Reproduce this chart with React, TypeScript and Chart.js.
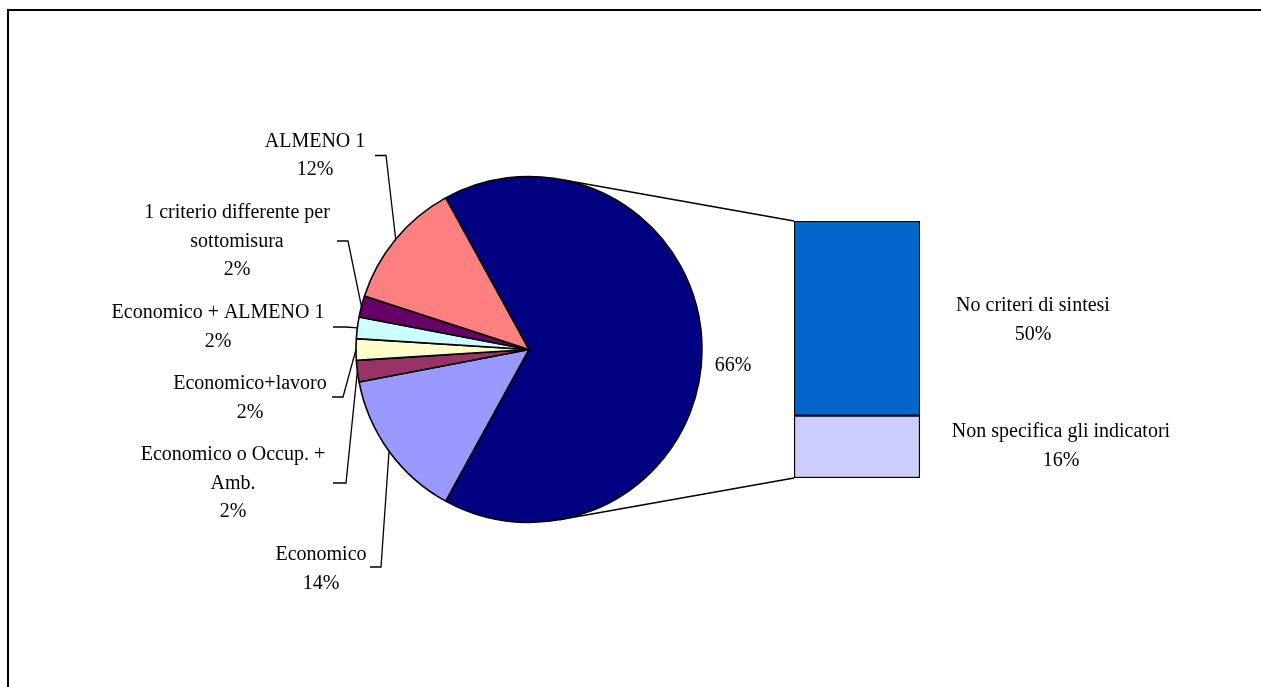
import React, { useEffect, useRef } from 'react';
import { Chart, registerables } from 'chart.js';

Chart.register(...registerables);

// Pie slices, clockwise starting with the aggregated slice that is broken out into the bar
const pieCategories: string[][] = [
  ['Altro'],
  ['Economico'],
  ['Economico o Occup. +', 'Amb.'],
  ['Economico+lavoro'],
  ['Economico + ALMENO 1'],
  ['1 criterio differente per', 'sottomisura'],
  ['ALMENO 1'],
];
const pieValues = [66, 14, 2, 2, 2, 2, 12];
const pieColors = ['#000080', '#9999FF', '#993366', '#FFFFCC', '#CCFFFF', '#660066', '#FF8080'];

// Breakdown of the aggregated slice (stacked bottom to top)
const barCategories = ['Non specifica gli indicatori', 'No criteri di sintesi'];
const barValues = [16, 50];
const barColors = ['#CCCCFF', '#0066CC'];

const W = 1261;
const H = 687;
const FONT = '20px "Liberation Serif", "Times New Roman", serif';
const LINE = 28.5;

// Label placement: centre x, first line y, optional leader [x0, x1, y]
type LabelPos = { cx: number; y: number; leader?: [number, number, number] };
const pieLabelPos: LabelPos[] = [
  { cx: 733, y: 366 },
  { cx: 321, y: 555, leader: [370, 381, 567] },
  { cx: 233, y: 455, leader: [333, 346, 483] },
  { cx: 250, y: 384, leader: [332, 343, 397] },
  { cx: 218, y: 313, leader: [333, 346, 327] },
  { cx: 237, y: 213, leader: [337, 348, 241] },
  { cx: 315, y: 141.5, leader: [375, 386, 155.5] },
];
const barLabelPos: LabelPos[] = [
  { cx: 1061, y: 432 },
  { cx: 1033, y: 306 },
];

const PIE_RADIUS = 173;
const BAR_BOX = { left: 794, right: 920, top: 221, bottom: 478 };

export default function App() {
  const pieRef = useRef<HTMLCanvasElement>(null);
  const barRef = useRef<HTMLCanvasElement>(null);

  useEffect(() => {
    const barTotal = barValues.reduce((a, b) => a + b, 0);
    const pieTotal = pieValues.reduce((a, b) => a + b, 0);

    const barChart = new Chart(barRef.current!, {
      type: 'bar',
      data: {
        labels: [''],
        datasets: barValues.map((v, i) => ({
          label: barCategories[i],
          data: [v],
          backgroundColor: barColors[i],
          borderColor: '#000',
          borderWidth: 1.5,
          borderSkipped: false,
          categoryPercentage: 1,
          barPercentage: 1,
        })),
      },
      options: {
        responsive: false,
        animation: false,
        events: [],
        layout: {
          padding: {
            left: BAR_BOX.left,
            right: W - BAR_BOX.right,
            top: BAR_BOX.top,
            bottom: H - BAR_BOX.bottom,
          },
        },
        scales: {
          x: { display: false, stacked: true },
          y: { display: false, stacked: true, min: 0, max: barTotal },
        },
        plugins: { legend: { display: false }, tooltip: { enabled: false } },
      },
      plugins: [
        {
          id: 'barLabels',
          afterDraw(chart: any) {
            const ctx = chart.ctx;
            ctx.save();
            ctx.font = FONT;
            ctx.fillStyle = '#000';
            ctx.textAlign = 'center';
            ctx.textBaseline = 'middle';
            barCategories.forEach((name, i) => {
              const p = barLabelPos[i];
              ctx.fillText(name, p.cx, p.y);
              ctx.fillText(`${barValues[i]}%`, p.cx, p.y + LINE);
            });
            ctx.restore();
          },
        },
      ],
    });

    const pieChart = new Chart(pieRef.current!, {
      type: 'pie',
      data: {
        labels: pieCategories,
        datasets: [
          {
            data: pieValues,
            backgroundColor: pieColors,
            borderColor: '#000',
            borderWidth: 1.6,
          },
        ],
      },
      options: {
        responsive: false,
        animation: false,
        events: [],
        radius: PIE_RADIUS,
        rotation: 90 - (pieValues[0] / pieTotal) * 180,
        layout: { padding: { left: 0, right: 203, top: 12, bottom: 0 } },
        plugins: { legend: { display: false }, tooltip: { enabled: false } },
      } as any,
      plugins: [
        {
          id: 'pieLabels',
          afterDraw(chart: any) {
            const ctx = chart.ctx;
            const arcs = chart.getDatasetMeta(0).data;
            ctx.save();
            ctx.font = FONT;
            ctx.fillStyle = '#000';
            ctx.strokeStyle = '#000';
            ctx.textAlign = 'center';
            ctx.textBaseline = 'middle';

            pieCategories.forEach((lines, i) => {
              const p = pieLabelPos[i];
              const pct = `${Math.round((pieValues[i] / pieTotal) * 100)}%`;
              const rows = i === 0 ? [pct] : [...lines, pct];
              rows.forEach((t, k) => ctx.fillText(t, p.cx, p.y + k * LINE));
              if (p.leader) {
                const a = arcs[i];
                const mid = (a.startAngle + a.endAngle) / 2;
                const px = a.x + Math.cos(mid) * a.outerRadius;
                const py = a.y + Math.sin(mid) * a.outerRadius;
                ctx.lineWidth = 1.3;
                ctx.beginPath();
                ctx.moveTo(p.leader[0], p.leader[2]);
                ctx.lineTo(p.leader[1], p.leader[2]);
                ctx.lineTo(px, py);
                ctx.stroke();
              }
            });

            // connector lines from the pie to the corners of the stacked bar
            const c = arcs[0];
            const topBar = barChart.getDatasetMeta(barValues.length - 1).data[0] as any;
            const bottomBar = barChart.getDatasetMeta(0).data[0] as any;
            const corners = [
              { x: topBar.x - topBar.width / 2, y: topBar.y, sign: -1 },
              { x: bottomBar.x - bottomBar.width / 2, y: bottomBar.base, sign: 1 },
            ];
            ctx.lineWidth = 1.5;
            corners.forEach((q) => {
              const dx = q.x - c.x;
              const dy = q.y - c.y;
              const d = Math.hypot(dx, dy);
              const phi = Math.atan2(dy, dx);
              const alpha = Math.acos(c.outerRadius / d);
              const t = phi + q.sign * alpha;
              ctx.beginPath();
              ctx.moveTo(c.x + Math.cos(t) * c.outerRadius, c.y + Math.sin(t) * c.outerRadius);
              ctx.lineTo(q.x, q.y);
              ctx.stroke();
            });
            ctx.restore();
          },
        },
      ],
    });

    return () => {
      pieChart.destroy();
      barChart.destroy();
    };
  }, []);

  return (
    <div
      style={{
        position: 'absolute',
        left: 0,
        top: 0,
        width: W,
        height: H,
        overflow: 'hidden',
        background: '#fff',
      }}
    >
      <div
        style={{
          position: 'absolute',
          left: 7,
          top: 9,
          width: W + 50,
          height: H + 50,
          borderTop: '2px solid #000',
          borderLeft: '2px solid #000',
        }}
      />
      <canvas ref={pieRef} width={W} height={H} style={{ position: 'absolute', left: 0, top: 0 }} />
      <canvas ref={barRef} width={W} height={H} style={{ position: 'absolute', left: 0, top: 0 }} />
    </div>
  );
}
